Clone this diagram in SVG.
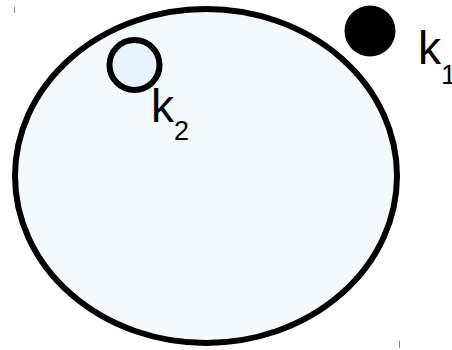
<svg xmlns="http://www.w3.org/2000/svg" width="452" height="350" viewBox="0 0 452 350">
<style>
.shape{stroke:#000;stroke-width:6}
.lbl{font-family:"Liberation Sans",Arial,sans-serif;fill:#000}
.sub{font-size:27px}
.tick{stroke:#888;stroke-width:1}
</style>
<rect width="452" height="350" fill="#fff"/>
<g id="ticks">
<line class="tick" x1="14.5" y1="7" x2="14.5" y2="13"/>
<line class="tick" x1="110.5" y1="38" x2="110.5" y2="44"/>
<line class="tick" x1="399.5" y1="341" x2="399.5" y2="348"/>
</g>
<g id="big">
<ellipse class="shape" cx="206" cy="176" rx="191" ry="167" fill="#f4f9ff"/>
</g>
<g id="k2">
<circle class="shape" cx="134.5" cy="65" r="25" fill="#e9f3ff"/>
<text class="lbl" x="151" y="122" font-size="46">k<tspan class="sub" dy="18">2</tspan></text>
</g>
<g id="k1">
<circle cx="370" cy="31" r="25.5" fill="#000"/>
<text class="lbl" x="418" y="64" font-size="46">k<tspan class="sub" dy="20">1</tspan></text>
</g>
</svg>
